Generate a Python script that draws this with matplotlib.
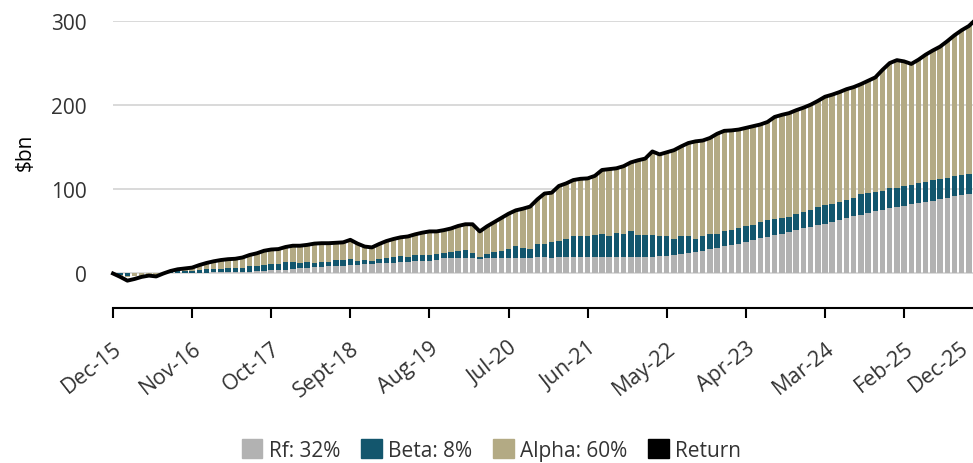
import matplotlib
matplotlib.use("Agg")
import matplotlib.pyplot as plt
from matplotlib.patches import Patch
from matplotlib.transforms import ScaledTranslation
import numpy as np
import pandas as pd

plt.rcParams["font.family"] = ["Open Sans", "DejaVu Sans"]
plt.rcParams["text.color"] = "#333333"
plt.rcParams["xtick.color"] = "#000000"
plt.rcParams["xtick.labelcolor"] = "#333333"
plt.rcParams["ytick.labelcolor"] = "#333333"

# monthly, Dec-15 .. Dec-25 ($bn, cumulative)
dates = pd.date_range("2015-12-01", periods=121, freq="MS")

rf = [0, 0, 0, 0, 0, 0, 0, 0, 0.3, 0.5,
      0.6, 0.8, 1.0, 1.0, 1.2, 1.3, 1.5, 1.8, 2.0, 2.2,
      3.0, 3.4, 4.0, 4.2, 4.6, 5.0, 6.0, 6.2, 7.3, 8.0,
      8.5, 9.3, 9.3, 10.5, 10.5, 11.7, 11.7, 12.5, 12.5, 12.5,
      14.0, 14.0, 15.3, 15.3, 15.3, 16.5, 18.0, 18.0, 18.0, 18.0,
      18.0, 17.0, 19.0, 19.0, 19.0, 19.0, 19.0, 19.0, 19.0, 19.5,
      20.0, 19.0, 20.0, 20.0, 20.0, 20.0, 20.0, 20.0, 20.0, 20.0,
      20.0, 20.0, 20.0, 20.0, 20.0, 20.0, 20.5, 21.0, 22.5, 23.5,
      24.7, 26.0, 27.2, 28.8, 30.8, 32.5, 33.8, 35.5, 37.6, 40.3,
      41.7, 43.3, 45.6, 46.8, 49.6, 52.0, 53.6, 55.0, 57.5, 58.7,
      61.5, 63.8, 65.4, 67.8, 69.8, 71.7, 73.7, 75.3, 77.7, 78.9,
      80.4, 82.0, 83.6, 85.3, 86.4, 88.3, 90.0, 91.5, 93.5, 95.0,
      96.6]

beta = [0, -1.5, -2.5, 0, 0, 0, 0.5, 1.0, 1.7, 2.0,
        2.4, 2.7, 3.5, 4.0, 4.3, 4.5, 5.0, 5.2, 5.0, 6.3,
        6.0, 6.3, 7.3, 7.5, 9.1, 8.7, 7.0, 7.5, 4.7, 5.7,
        4.8, 6.7, 6.7, 6.8, 4.4, 4.8, 3.2, 5.2, 6.3, 7.5,
        6.8, 6.0, 6.7, 6.7, 7.1, 6.7, 6.4, 7.6, 8.8, 10.0,
        6.4, 3.0, 4.2, 6.2, 7.8, 10.2, 13.3, 11.4, 10.2, 15.5,
        15.0, 18.0, 19.0, 21.0, 24.0, 24.0, 25.0, 26.0, 27.4, 25.0,
        28.0, 27.0, 30.0, 26.0, 26.0, 26.0, 23.5, 23.0, 18.0, 21.5,
        19.3, 15.0, 17.8, 18.2, 16.2, 18.5, 18.2, 18.5, 19.4, 17.7,
        19.0, 20.5, 19.0, 19.0, 17.4, 18.6, 19.7, 20.3, 21.4, 22.5,
        20.9, 21.4, 22.2, 22.2, 24.1, 23.8, 23.7, 23.3, 23.3, 23.1,
        23.0, 23.3, 23.7, 23.7, 24.6, 24.5, 24.0, 24.5, 23.7, 23.8,
        23.4]

alpha = [0, -1.0, -2.0, -3.5, -3.5, -2.5, -2.5, 0, 1.0, 2.5,
         3.0, 3.5, 5.5, 7.5, 9.0, 10.2, 10.5, 10.5, 12.0, 13.5,
         15.0, 17.3, 17.2, 17.3, 17.8, 19.3, 20.0, 20.3, 23.5, 22.3,
         22.7, 20.5, 21.0, 22.7, 20.6, 15.5, 16.1, 17.3, 19.7, 21.0,
         22.2, 24.0, 24.5, 26.5, 27.6, 26.8, 27.1, 27.9, 29.7, 30.5,
         34.1, 30.0, 32.8, 35.8, 39.2, 41.8, 42.7, 46.6, 50.3, 53.0,
         60.0, 59.0, 65.0, 66.0, 67.0, 68.5, 68.0, 70.0, 75.6, 79.0,
         77.0, 80.5, 82.0, 88.5, 90.5, 99.0, 97.5, 100.0, 106.0, 106.0,
         111.0, 116.0, 113.0, 114.0, 119.0, 118.5, 118.0, 117.0, 116.0, 117.0,
         116.3, 116.2, 121.4, 122.7, 123.5, 123.4, 123.7, 125.2, 126.1, 128.8,
         130.1, 130.3, 131.4, 131.5, 131.1, 133.5, 135.6, 143.4, 149.0, 151.5,
         148.6, 143.7, 146.7, 151.0, 154.0, 156.7, 162.0, 167.0, 171.8, 175.2,
         182.0]

ret = [0, -4, -8.5, -6.5, -4, -2.5, -3.5, 0, 3, 5,
       6, 7, 10, 12.5, 14.5, 16, 17, 17.5, 19, 22,
       24, 27, 28.5, 29, 31.5, 33, 33, 34, 35.5, 36,
       36, 36.5, 37, 40, 35.5, 32, 31, 35, 38.5, 41,
       43, 44, 46.5, 48.5, 50, 50, 51.5, 53.5, 56.5, 58.5,
       58.5, 50, 56, 61, 66, 71, 75, 77, 79.5, 88,
       95, 96, 104, 107, 111, 112.5, 113, 116, 123, 124,
       125, 127.5, 132, 134.5, 136.5, 145, 141.5, 144, 146.5, 151,
       155, 157, 158, 161, 166, 169.5, 170, 171, 173, 175,
       177, 180, 186, 188.5, 190.5, 194, 197, 200.5, 205, 210,
       212.5, 215.5, 219, 221.5, 225, 229, 233, 242, 250, 253.5,
       252, 249, 254, 260, 265, 269.5, 276, 283, 289, 294,
       302]

tick_months = ["2015-12", "2016-11", "2017-10", "2018-09", "2019-08", "2020-07",
               "2021-06", "2022-05", "2023-04", "2024-03", "2025-02", "2025-12"]
tick_labels = ["Dec-15", "Nov-16", "Oct-17", "Sept-18", "Aug-19", "Jul-20",
               "Jun-21", "May-22", "Apr-23", "Mar-24", "Feb-25", "Dec-25"]

series = [("Rf: 32%", rf, "#b2b2b2"),
          ("Beta: 8%", beta, "#13566d"),
          ("Alpha: 60%", alpha, "#b3aa84")]

fig = plt.figure(figsize=(9.73, 4.64), dpi=100)
ax = fig.add_axes([113 / 973, 1 - 309 / 464, 863 / 973, 287 / 464])

x = np.arange(len(dates))
pos_base = np.zeros(len(x))
neg_base = np.zeros(len(x))
for name, vals, col in series:
    v = np.array(vals, dtype=float)
    base = np.where(v >= 0, pos_base, neg_base)
    ax.bar(x, v, bottom=base, width=0.76, color=col, linewidth=0, zorder=2)
    pos_base = pos_base + np.clip(v, 0, None)
    neg_base = neg_base + np.clip(v, None, 0)

ax.plot(x, ret, color="black", linewidth=2.8, zorder=3, clip_on=False,
        solid_joinstyle="round")

ax.set_xlim(0, 120)
ax.set_ylim(-41, 300)
ax.set_yticks([0, 100, 200, 300])
ax.yaxis.grid(True, color="#d0d0d0", linewidth=1.1, zorder=0)
ax.set_axisbelow(True)
ax.tick_params(axis="y", length=0, pad=19, labelsize=15)

tick_pos = [dates.get_loc(pd.Timestamp(m)) for m in tick_months]
ax.set_xticks(tick_pos)
ax.set_xticklabels(tick_labels, rotation=38, ha="right", rotation_mode="anchor",
                   fontsize=15.5)
ax.tick_params(axis="x", direction="out", length=7, width=1.5, pad=14)
# last label sits at the figure edge; nudge it inside like the original
last = ax.get_xticklabels()[-1]
last.set_transform(last.get_transform() + ScaledTranslation(-12 / 72, 0, fig.dpi_scale_trans))

for s in ["top", "right", "left"]:
    ax.spines[s].set_visible(False)
ax.spines["bottom"].set_linewidth(1.5)
ax.spines["bottom"].set_color("black")

ax.set_ylabel("$bn", fontsize=15)
ax.yaxis.set_label_coords(-0.089, 0.547)

handles = [Patch(color=c, label=n) for n, _, c in series]
handles.append(Patch(color="black", label="Return"))
fig.legend(handles=handles, loc="center", bbox_to_anchor=(0.505, 0.028), ncol=4,
           frameon=False, fontsize=15, handlelength=1.0, handleheight=1.0,
           handletextpad=0.3, columnspacing=1.0)

fig.savefig("out.png", dpi=100)
